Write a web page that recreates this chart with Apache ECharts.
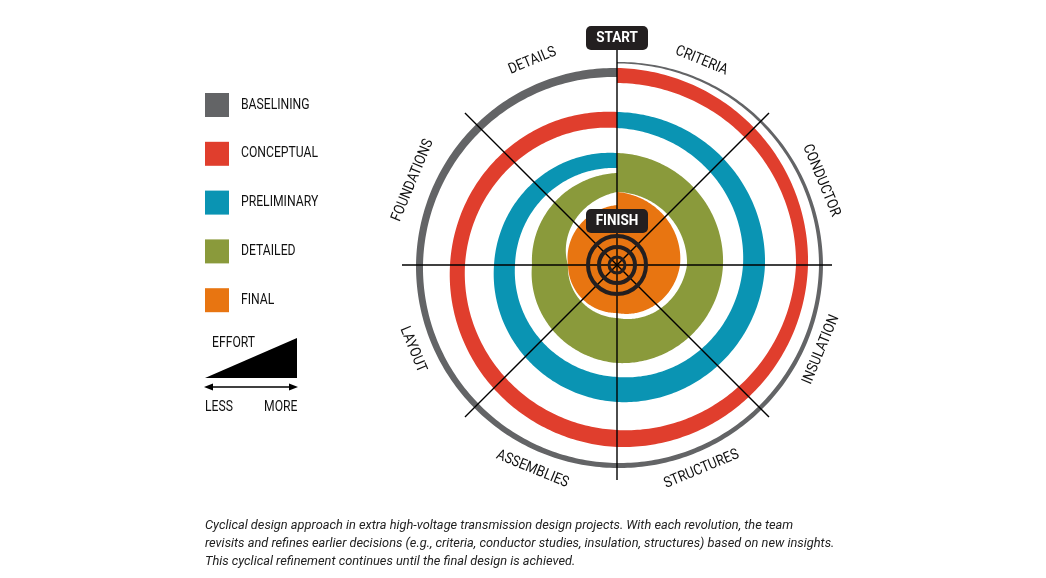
<!DOCTYPE html>
<html><head><meta charset="utf-8">
<script src="https://cdn.jsdelivr.net/npm/echarts@6/dist/echarts.min.js"></script>
<style>html,body{margin:0;padding:0;background:#fff}#c{width:1046px;height:578px}</style>
</head><body><div id="c"></div>
<script>
// Phases (outermost first); radii read at angles 0,90,180,270,360 (clockwise from top)
const phases = ['BASELINING','CONCEPTUAL','PRELIMINARY','DETAILED','FINAL'];
const colors = ['#636466','#e03e2d','#0a94b3','#8a9a3b','#e87511'];
const anchorAngles = [0,90,180,270,360];
const outerR = [[203,206,203,201,197],[197,191,182,167,153],[153,148,137,123,112],[112,106,98,85,92],[73,63,48,49,60]];
const innerR = [[201.5,202,198,194,188],[182,179,165,152,137],[137,126,112,102,97],[73,70,53,49,73],[0,0,0,0,0]];
const steps = ['CRITERIA','CONDUCTOR','INSULATION','STRUCTURES','ASSEMBLIES','LAYOUT','FOUNDATIONS','DETAILS'];
const stepAngles = [22.5,67.5,112.5,157.5,202.5,247.5,292.5,337.5];
const spokeAngles = [0,45,90,135,180,225,270,315];
const targetRings = [29,18,8];
const caption = ['Cyclical design approach in extra high-voltage transmission design projects. With each revolution, the team',
 'revisits and refines earlier decisions (e.g., criteria, conductor studies, insulation, structures) based on new insights.',
 'This cyclical refinement continues until the final design is achieved.'];

const CX=617, CY=265, RMAX=240, SX=0.87;
function interp(arr,a){for(let i=0;i<4;i++){if(a<=anchorAngles[i+1]){const t=(a-anchorAngles[i])/(anchorAngles[i+1]-anchorAngles[i]);return arr[i]+(arr[i+1]-arr[i])*t;}}return arr[4];}

const chart=echarts.init(document.getElementById('c'),null,{renderer:'canvas'});
const graphics=[];
function label(txt,x,y,extra){graphics.push(Object.assign({type:'text',x:x,y:y,scaleX:SX,style:{text:txt,fill:'#111',font:'14px Roboto',textVerticalAlign:'middle'}},extra||{}));}
phases.forEach((p,i)=>{
  const y=105+i*48.8;
  graphics.push({type:'rect',shape:{x:205,y:y-12,width:24,height:24},style:{fill:colors[i]}});
  label(p,241,y);
});
graphics.push({type:'polygon',shape:{points:[[205,378],[297,338],[297,378]]},style:{fill:'#000'}});
label('EFFORT',212,343);
graphics.push({type:'line',shape:{x1:208,y1:387,x2:294,y2:387},style:{stroke:'#000',lineWidth:1.5}});
graphics.push({type:'polygon',shape:{points:[[204,387],[213,383.5],[213,390.5]]},style:{fill:'#000'}});
graphics.push({type:'polygon',shape:{points:[[298,387],[289,383.5],[289,390.5]]},style:{fill:'#000'}});
label('LESS',205,407); label('MORE',264,407);
caption.forEach((t,i)=>graphics.push({type:'text',x:205,y:526+i*18,scaleX:0.985,style:{text:t,fill:'#222',font:'italic 13px Roboto',textVerticalAlign:'middle'}}));
steps.forEach((s,i)=>{
  const a=stepAngles[i], rad=a*Math.PI/180, r=221;
  const x=CX+r*Math.sin(rad), y=CY-r*Math.cos(rad);
  const rot = (a<90||a>270)? a : a-180;
  graphics.push({type:'text',x:x,y:y,scaleX:SX,rotation:-rot*Math.PI/180,z:10,style:{text:s,fill:'#111',font:'15px Roboto',textAlign:'center',textVerticalAlign:'middle'}});
});
function badge(txt,y){
  graphics.push({type:'rect',z:20,shape:{x:CX-31,y:y-12,width:62,height:24,r:5},style:{fill:'#231f20'}});
  graphics.push({type:'text',z:21,x:CX,y:y,scaleX:0.9,style:{text:txt,fill:'#fff',font:'bold 15px Roboto',textAlign:'center',textVerticalAlign:'middle'}});
}
badge('START',38); badge('FINISH',221);

chart.setOption({
  animation:false,
  polar:{center:[CX,CY],radius:RMAX},
  angleAxis:{type:'value',min:0,max:360,startAngle:90,clockwise:true,show:false},
  radiusAxis:{type:'value',min:0,max:RMAX,show:false},
  series:[
    {type:'custom',coordinateSystem:'polar',data:phases.map((p,i)=>[i]),z:1,
     renderItem:(params,api)=>{
       const i=params.dataIndex, pts=[];
       for(let a=0;a<=360;a+=1) pts.push(api.coord([interp(outerR[i],a),a]));
       for(let a=360;a>=0;a-=1) pts.push(api.coord([interp(innerR[i],a),a]));
       return {type:'polygon',shape:{points:pts},style:{fill:colors[i]}};
     }},
    {type:'custom',coordinateSystem:'polar',data:spokeAngles.map(a=>[a]),z:5,
     renderItem:(params,api)=>{
       const a=spokeAngles[params.dataIndex];
       const p0=api.coord([0,a]), p1=api.coord([a===0?226:215,a]);
       return {type:'line',shape:{x1:p0[0],y1:p0[1],x2:p1[0],y2:p1[1]},style:{stroke:'#000',lineWidth:1.4}};
     }},
    {type:'custom',coordinateSystem:'polar',data:targetRings.map(r=>[r]),z:6,
     renderItem:(params,api)=>{
       const r=targetRings[params.dataIndex];
       const c=api.coord([0,0]), e=api.coord([r,90]);
       return {type:'circle',shape:{cx:c[0],cy:c[1],r:e[0]-c[0]},style:{fill:null,stroke:'#231f20',lineWidth:params.dataIndex===2?3:4}};
     }}
  ],
  graphic:graphics
});
</script></body></html>
